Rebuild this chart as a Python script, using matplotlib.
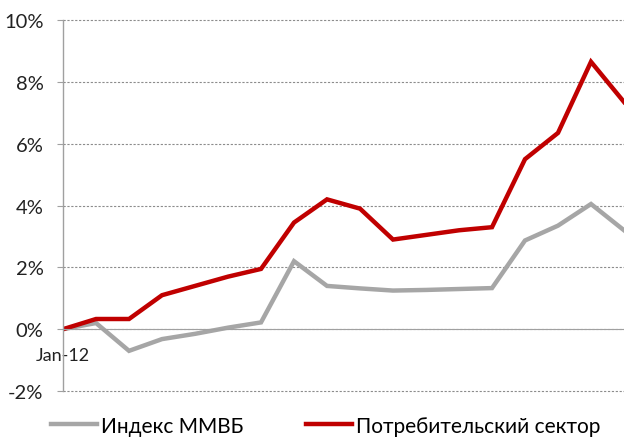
import numpy as np
import matplotlib.pyplot as plt
from matplotlib.ticker import FuncFormatter

plt.rcParams['font.family'] = ['Lato', 'DejaVu Sans']

# DATA (cumulative change, %)
x_labels = ['Jan-12'] + [''] * 17
micex = [0.0, 0.2, -0.7, -0.32, -0.15, 0.05, 0.22, 2.2, 1.4, 1.32,
         1.25, 1.27, 1.3, 1.33, 2.87, 3.35, 4.05, 3.2]
consumer = [0.0, 0.33, 0.33, 1.1, 1.4, 1.7, 1.95, 3.45, 4.2, 3.9,
            2.9, 3.05, 3.2, 3.3, 5.5, 6.35, 8.65, 7.35]
names = ['Индекс ММВБ', 'Потребительский сектор']

x = np.arange(len(micex))

fig = plt.figure(figsize=(6.24, 4.39), dpi=100)
ax = fig.add_axes([0.101, 0.107, 0.899, 0.845])

ax.plot(x, micex, color='#A6A6A6', lw=3.2, label=names[0], solid_joinstyle='miter')
ax.plot(x, consumer, color='#C00000', lw=3.2, label=names[1], solid_joinstyle='miter')

ax.set_ylim(-2, 10)
ax.set_xlim(0, 17)
ax.set_yticks(np.arange(-2, 11, 2))
ax.yaxis.set_major_formatter(FuncFormatter(lambda v, p: f'{v:.0f}%'))
ax.yaxis.grid(True, ls=(0, (2, 1.5)), color='#8C8C8C', lw=0.8)
for g in ax.get_ygridlines():
    g.set_clip_on(False)
ax.set_axisbelow(True)

ax.set_xticks([0])
ax.set_xticklabels(x_labels[:1])

for s in ['top', 'right']:
    ax.spines[s].set_visible(False)
ax.spines['bottom'].set_position(('data', 0))
ax.spines['bottom'].set_color('#A0A0A0')
ax.spines['left'].set_color('#A0A0A0')
ax.spines['left'].set_linewidth(1.0)

ax.tick_params(axis='y', length=4, color='#A0A0A0', labelsize=14.5, pad=10, labelcolor='#222222')
ax.tick_params(axis='x', length=0, labelsize=13, pad=13, labelcolor='#222222')

fig.legend(loc='center', bbox_to_anchor=(0.522, 0.028), ncol=2, frameon=False,
           fontsize=15, handlelength=2.2, handletextpad=0.2, columnspacing=3.0,
           borderaxespad=0, borderpad=0)

fig.savefig('out.png', dpi=100)
